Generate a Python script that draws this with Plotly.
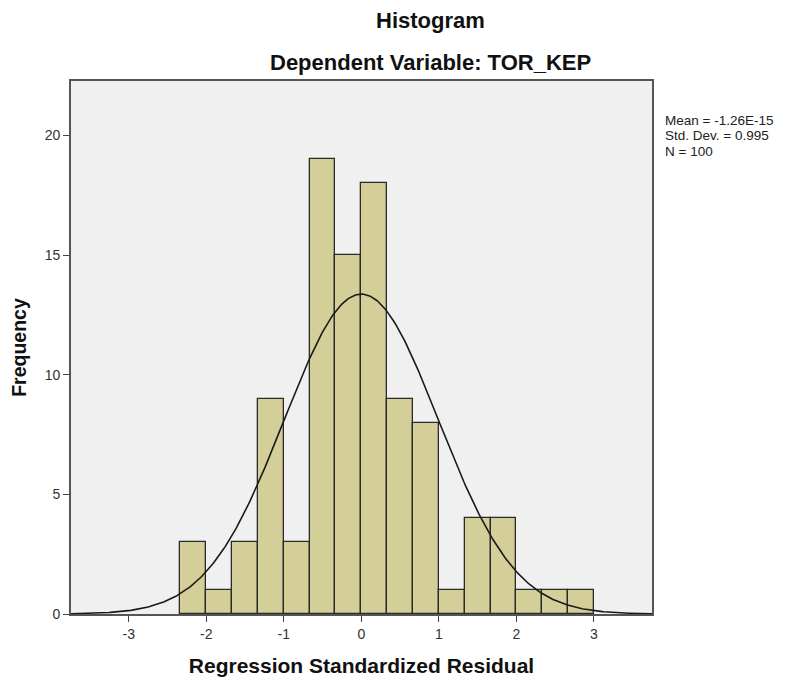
import numpy as np
import plotly.graph_objects as go

# Data
counts = [3, 1, 3, 9, 3, 19, 15, 18, 9, 8, 1, 4, 4, 1, 1, 1]
bin_start = -7 / 3
bin_width = 1 / 3
mean_val = -1.26e-15
std_val = 0.995
n_val = 100
x_ticks = [-3, -2, -1, 0, 1, 2, 3]
x_tick_labels = ["-3", "-2", "-1", "0", "1", "2", "3"]
y_ticks = [0, 5, 10, 15, 20]
y_tick_labels = ["0", "5", "10", "15", "20"]
stats_lines = ["Mean = -1.26E-15", "Std. Dev. = 0.995", "N = 100"]

centers = [bin_start + (i + 0.5) * bin_width for i in range(len(counts))]

xr = [-3.745, 3.75]
xs = np.linspace(xr[0], xr[1], 400)
ys = n_val * bin_width / (std_val * np.sqrt(2 * np.pi)) * np.exp(-0.5 * ((xs - mean_val) / std_val) ** 2)

fig = go.Figure()
fig.add_trace(go.Bar(
    x=centers, y=counts, width=bin_width,
    marker=dict(color="#d4cf99", line=dict(color="#2a2a2a", width=1.3)),
    hoverinfo="x+y", showlegend=False,
))
fig.add_trace(go.Scatter(
    x=xs, y=ys, mode="lines",
    line=dict(color="#1a1a1a", width=1.6), showlegend=False, hoverinfo="skip",
))

font_family = "Liberation Sans, Arial, sans-serif"

PL, PR, PT, PB = 70.5, 652.0, 80.5, 614.0
PW, PH = PR - PL, PB - PT


def px(x):
    return (x - PL) / PW


def py(y):
    return (PB - y) / PH


annotations = [
    dict(text="<b>Histogram</b>", xref="paper", yref="paper",
         x=px(430), y=py(20), xanchor="center", yanchor="middle",
         showarrow=False, font=dict(size=22, color="#111")),
    dict(text="<b>Dependent Variable: TOR_KEP</b>", xref="paper", yref="paper",
         x=px(430), y=py(62), xanchor="center", yanchor="middle",
         showarrow=False, font=dict(size=22, color="#111")),
]
for i, line in enumerate(stats_lines):
    annotations.append(dict(
        text=line, xref="paper", yref="paper", x=px(663), y=py(120 + i * 15.5),
        xanchor="left", yanchor="middle", align="left", showarrow=False,
        font=dict(size=13.5, color="#222"),
    ))

fig.update_layout(
    width=785, height=684,
    margin=dict(l=62.5, r=141, t=72.5, b=78),
    paper_bgcolor="white",
    plot_bgcolor="#f0f0f0",
    font=dict(family=font_family, color="#222"),
    bargap=0,
    xaxis=dict(
        range=xr, tickvals=x_ticks, ticktext=x_tick_labels, ticks="outside", ticklen=6, tickwidth=1.3,
        tickcolor="#444", showgrid=False, zeroline=False, automargin=False,
        showline=True, linecolor="#555", linewidth=1.6, mirror=True,
        tickfont=dict(size=14, color="#333"),
        title=dict(text="<b>Regression Standardized Residual</b>",
                   font=dict(size=21, color="#111"), standoff=18),
    ),
    yaxis=dict(
        range=[0, 22.27], tickvals=y_ticks, ticktext=y_tick_labels, ticks="outside", ticklen=6, tickwidth=1.3,
        tickcolor="#444", showgrid=False, zeroline=False, automargin=False,
        showline=True, linecolor="#555", linewidth=1.6, mirror=True,
        tickfont=dict(size=14, color="#333"),
        title=dict(text="<b>Frequency</b>", font=dict(size=19.5, color="#111"), standoff=28),
    ),
    annotations=annotations,
)

fig.write_html("out.html")
